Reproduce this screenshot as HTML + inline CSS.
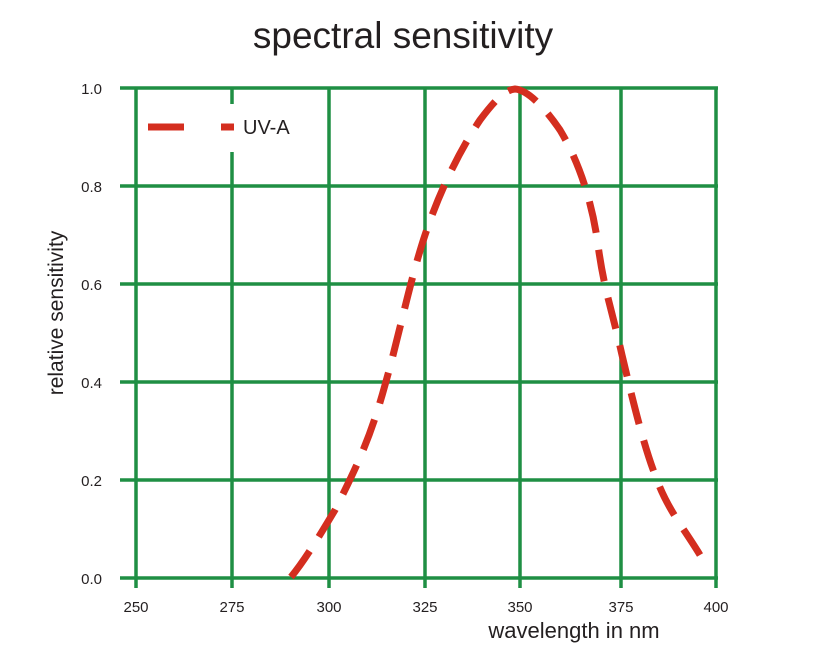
<!DOCTYPE html>
<html><head><meta charset="utf-8"><style>
html,body{margin:0;padding:0;background:#fff;width:827px;height:652px;overflow:hidden}
svg text{font-family:"Liberation Sans",sans-serif;fill:#231f20}
</style></head><body>
<svg width="827" height="652" viewBox="0 0 827 652">
<text x="403" y="48" font-size="37" text-anchor="middle">spectral sensitivity</text>
<g stroke="#1f8f44" stroke-width="3.5" fill="none">
<line x1="120" y1="88" x2="718" y2="88"/>
<line x1="120" y1="186" x2="718" y2="186"/>
<line x1="120" y1="284" x2="718" y2="284"/>
<line x1="120" y1="382" x2="718" y2="382"/>
<line x1="120" y1="480" x2="718" y2="480"/>
<line x1="120" y1="578" x2="718" y2="578"/>
<line x1="136" y1="88" x2="136" y2="588"/>
<line x1="232" y1="88" x2="232" y2="588"/>
<line x1="329" y1="88" x2="329" y2="588"/>
<line x1="425" y1="88" x2="425" y2="588"/>
<line x1="520" y1="88" x2="520" y2="588"/>
<line x1="621" y1="88" x2="621" y2="588"/>
<line x1="716" y1="88" x2="716" y2="588"/>
</g>
<rect x="140" y="104" width="94" height="48" fill="#fff"/>
<line x1="148" y1="127" x2="184" y2="127" stroke="#d42e1f" stroke-width="7"/>
<line x1="221" y1="127" x2="234" y2="127" stroke="#d42e1f" stroke-width="7"/>
<text x="243" y="134" font-size="20">UV-A</text>
<g font-size="15" text-anchor="end">
<text x="102" y="94">1.0</text><text x="102" y="192">0.8</text><text x="102" y="290">0.6</text>
<text x="102" y="388">0.4</text><text x="102" y="486">0.2</text><text x="102" y="584">0.0</text>
</g>
<g font-size="15" text-anchor="middle">
<text x="136" y="612">250</text><text x="232" y="612">275</text><text x="329" y="612">300</text>
<text x="425" y="612">325</text><text x="520" y="612">350</text><text x="621" y="612">375</text><text x="716" y="612">400</text>
</g>
<text x="574" y="638" font-size="22" text-anchor="middle">wavelength in nm</text>
<text transform="translate(63,313) rotate(-90)" font-size="21" text-anchor="middle">relative sensitivity</text>
<path d="M291,577 C305,560 320,535 335,510 C355,470 370,440 385,385 C398,340 410,280 425,235 C440,190 460,150 480,120 C495,100 505,90 515,89 C528,90 545,108 560,130 C578,160 592,200 598,245 C604,290 612,310 622,355 C635,410 645,450 657,480 C668,510 685,530 700,555" fill="none" stroke="#d42e1f" stroke-width="7" stroke-dasharray="32,17"/>
</svg>
</body></html>
